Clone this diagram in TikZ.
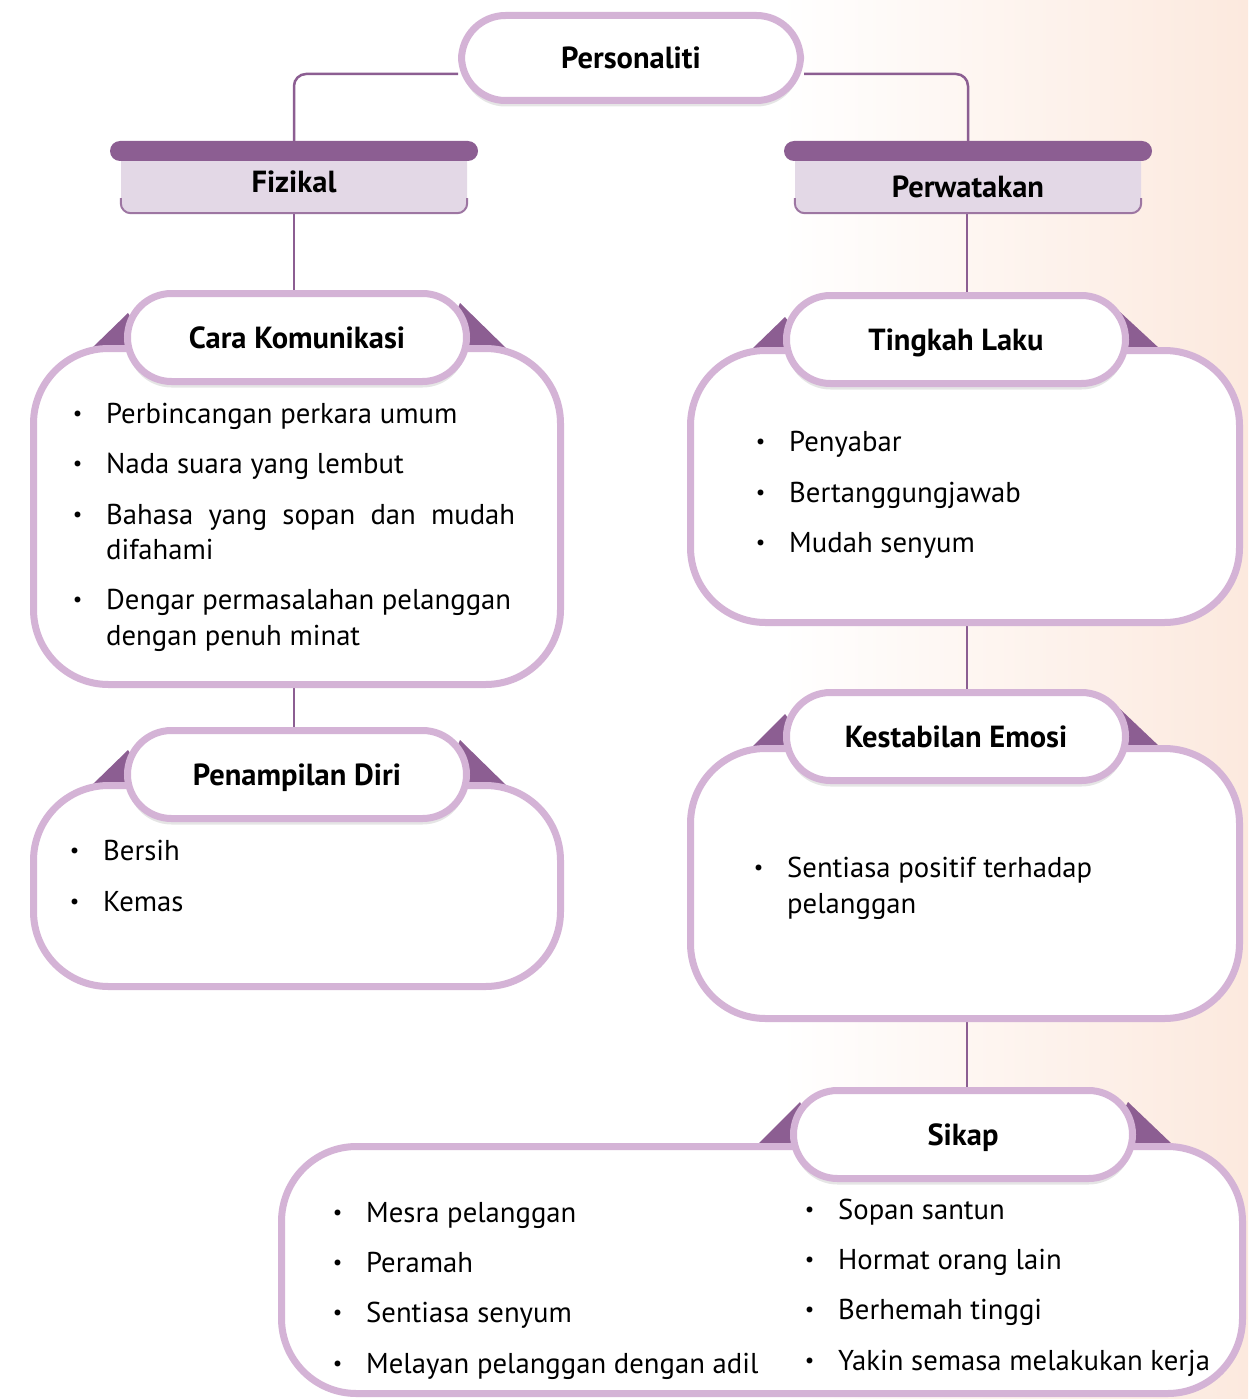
\documentclass[tikz,border=0pt]{standalone}
\usepackage{fontspec}
\setmainfont{PT Sans}
\usetikzlibrary{shadows,calc}
\definecolor{lp}{RGB}{212,179,214}
\definecolor{dp}{RGB}{140,94,146}
\definecolor{tabfill}{RGB}{227,216,230}
\definecolor{peach}{RGB}{252,233,222}
\pgfdeclarelayer{back}\pgfdeclarelayer{bg}
\pgfsetlayers{back,bg,main}
\newcommand\headfont{\fontsize{30.5}{36}\selectfont\bfseries}
\newcommand\bodyfont{\fontsize{28.7}{34}\selectfont}
\newcommand\bulfont{\fontsize{21}{24}\selectfont}
\newcommand\litem[4]{\node[bul] (#1b) at (#2-28.5,#3) {•}; \node[itm] (#1) at (#2,#3) {#4};}
\begin{document}
\begin{tikzpicture}[x=1pt,y=-1pt,
  pill/.style={draw=lp, line width=7pt, fill=white, rounded corners=44pt,
    minimum width=339pt, minimum height=88pt, inner sep=0pt, font=\headfont,
    text height=21pt, text depth=0pt,
    drop shadow={shadow xshift=0pt, shadow yshift=-6pt, opacity=0.10, fill=black}},
  box/.style={draw=lp, line width=7pt, fill=white, rounded corners=75pt, inner sep=0pt},
  tri/.style={fill=dp},
  conn/.style={draw=dp, line width=2.5pt},
  tabbar/.style={fill=dp, rounded corners=10pt, minimum width=368pt, minimum height=20pt, inner sep=0pt},
  tabbox/.style={fill=tabfill, rounded corners=10pt, minimum width=346pt, minimum height=62pt,
    inner sep=0pt, font=\headfont, text height=21pt, text depth=0pt},
  tabline/.style={draw=dp!85, line width=2pt, rounded corners=10pt},
  itm/.style={anchor=base west, inner sep=0pt, font=\bodyfont},
  bul/.style={anchor=base, inner sep=0pt, font=\bulfont, yshift=2.5pt}
]
\useasboundingbox (0,0) rectangle (1248,1399);
\begin{pgfonlayer}{back}
\fill[white] (0,0) rectangle (1248,1399);
\shade[left color=white, right color=peach] (780,0) rectangle (1248,1399);
\end{pgfonlayer}

% top
\node[pill, minimum height=85pt] (perso) at (631,58) {Personaliti};
\node[tabbox] (fiz) at (294,182) {Fizikal};
\draw[tabline] ([yshift=15pt]fiz.south west) -- (fiz.south west) -- (fiz.south east) -- ([yshift=15pt]fiz.south east);
\node[tabbar] (fizbar) at (294,151) {};
\node[tabbox, text height=31pt] (perw) at (968,182) {Perwatakan};
\draw[tabline] ([yshift=15pt]perw.south west) -- (perw.south west) -- (perw.south east) -- ([yshift=15pt]perw.south east);
\node[tabbar] (perbar) at (968,151) {};

% Cara Komunikasi
\fill[tri] (128,313) -- (92,348) -- (150,348) -- cycle;
\fill[tri] (460,303) -- (508,350) -- (440,350) -- cycle;
\node[box, minimum width=527pt, minimum height=336pt] (carabox) at (297,516.5) {};
\node[pill] (cara) at (297,337.5) {Cara Komunikasi};
\litem{c1}{106}{423}{Perbincangan perkara umum}
\litem{c2}{106}{473}{Nada suara yang lembut}
\litem{c3}{106}{524}{\makebox[409pt][s]{Bahasa yang sopan dan mudah}}
\node[itm] (c3b2) at (106,559) {difahami};
\litem{c4}{106}{609}{Dengar permasalahan pelanggan}
\node[itm] (c4b2) at (106,645) {dengan penuh minat};

% Penampilan Diri
\fill[tri] (128,750) -- (92,785) -- (150,785) -- cycle;
\fill[tri] (460,740) -- (508,787) -- (440,787) -- cycle;
\node[box, minimum width=527pt, minimum height=201pt] (penambox) at (297,886) {};
\node[pill] (penam) at (297,774.5) {Penampilan Diri};
\litem{p1}{103}{860}{Bersih}
\litem{p2}{103}{911}{Kemas}

% Tingkah Laku
\fill[tri] (785,317) -- (752,349) -- (810,349) -- cycle;
\fill[tri] (1120,312) -- (1160,349) -- (1100,349) -- cycle;
\node[box, minimum width=549pt, minimum height=272pt] (tingbox) at (965,486.5) {};
\node[pill] (ting) at (956,339.5) {Tingkah Laku};
\litem{t1}{789}{451}{Penyabar}
\litem{t2}{789}{502}{Bertanggungjawab}
\litem{t3}{789}{552}{Mudah senyum}

% Kestabilan Emosi
\fill[tri] (785,714) -- (752,747) -- (810,747) -- cycle;
\fill[tri] (1120,709) -- (1160,747) -- (1100,747) -- cycle;
\node[box, minimum width=549pt, minimum height=270pt] (kesbox) at (965,883.5) {};
\node[pill] (kes) at (956,736.5) {Kestabilan Emosi};
\litem{k1}{787}{877}{Sentiasa positif terhadap}
\node[itm] (k1b2) at (787,913) {pelanggan};

% Sikap
\fill[tri] (800,1102) -- (757,1145) -- (820,1145) -- cycle;
\fill[tri] (1128,1102) -- (1173,1145) -- (1105,1145) -- cycle;
\node[box, minimum width=961pt, minimum height=247pt] (sikbox) at (762,1270) {};
\node[pill] (sik) at (963,1134.5) {Sikap};
\litem{s1}{366}{1222}{Mesra pelanggan}
\litem{s2}{366}{1272}{Peramah}
\litem{s3}{366}{1322}{Sentiasa senyum}
\litem{s4}{366}{1373}{Melayan pelanggan dengan adil}
\litem{s5}{838}{1219}{Sopan santun}
\litem{s6}{838}{1269}{Hormat orang lain}
\litem{s7}{838}{1319}{Berhemah tinggi}
\litem{s8}{838}{1370}{Yakin semasa melakukan kerja}

% connectors
\begin{pgfonlayer}{bg}
\draw[conn, rounded corners=12pt] ([yshift=-16pt]perso.west) -| (fizbar.north);
\draw[conn, rounded corners=12pt] ([yshift=-16pt]perso.east) -| (perbar.north);
\draw[conn] (fiz.south) -- (fiz.south |- cara.north);
\draw[conn] (fiz.south |- carabox.south) -- (fiz.south |- penam.north);
\draw[conn] ([xshift=-1pt]perw.south) -- ([xshift=-1pt]perw.south |- ting.north);
\draw[conn] ([xshift=-1pt]perw.south |- tingbox.south) -- ([xshift=-1pt]perw.south |- kes.north);
\draw[conn] ([xshift=-1pt]perw.south |- kesbox.south) -- ([xshift=-1pt]perw.south |- sik.north);
\end{pgfonlayer}
\end{tikzpicture}
\end{document}
